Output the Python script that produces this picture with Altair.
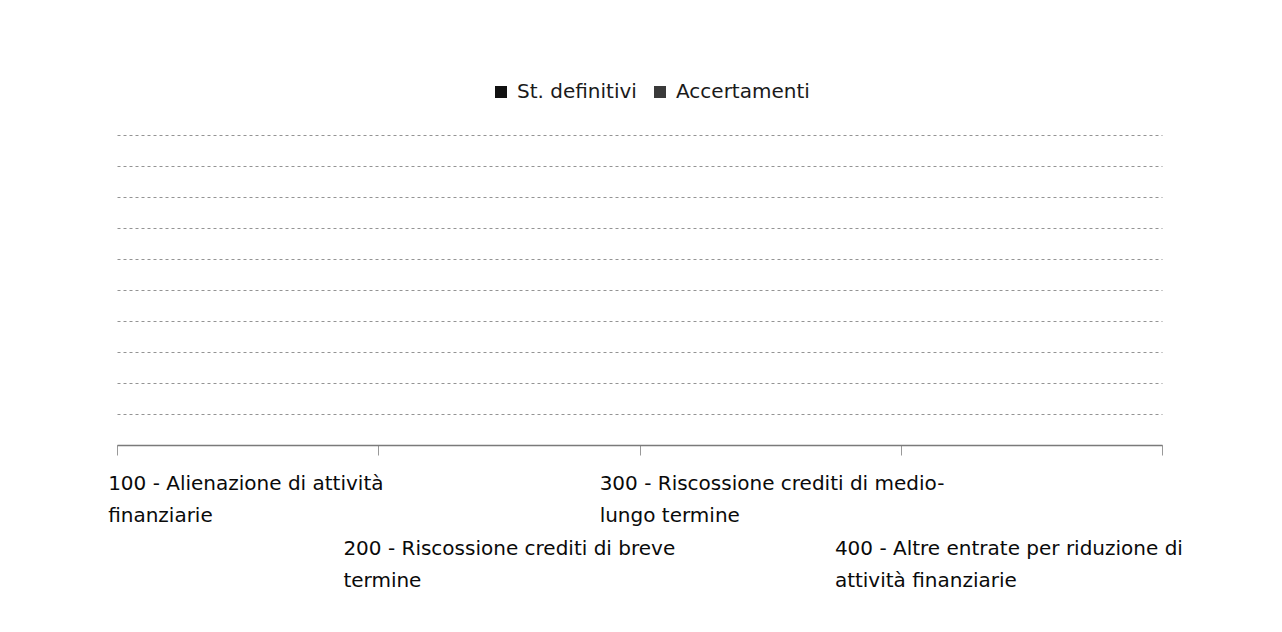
import altair as alt
import pandas as pd

# ---- data (all amounts are zero: no bars visible) ----
categories = [
    "100 - Alienazione di attività finanziarie",
    "200 - Riscossione crediti di breve termine",
    "300 - Riscossione crediti di medio-lungo termine",
    "400 - Altre entrate per riduzione di attività finanziarie",
]
tick_labels = [
    "100 - Alienazione di attività|finanziarie",
    "200 - Riscossione crediti di breve|termine",
    "300 - Riscossione crediti di medio-|lungo termine",
    "400 - Altre entrate per riduzione di|attività finanziarie",
]
series = ["St. definitivi", "Accertamenti"]
st_definitivi = [0, 0, 0, 0]
accertamenti = [0, 0, 0, 0]
y_ticks = list(range(0, 11))

rows = []
for i, c in enumerate(tick_labels):
    rows.append({"cat": c, "serie": series[0], "val": st_definitivi[i]})
    rows.append({"cat": c, "serie": series[1], "val": accertamenti[i]})
df = pd.DataFrame(rows)

FONT = "DejaVu Sans"

label_offset = {
    "condition": [
        {"test": f"datum.value == '{tick_labels[0]}'", "value": -140},
        {"test": f"datum.value == '{tick_labels[1]}'", "value": -166},
        {"test": f"datum.value == '{tick_labels[2]}'", "value": -171},
    ],
    "value": -197,
}
label_padding = {
    "condition": {
        "test": f"datum.value == '{tick_labels[1]}' || datum.value == '{tick_labels[3]}'",
        "value": 83,
    },
    "value": 18,
}

chart = (
    alt.Chart(df)
    .mark_bar()
    .encode(
        x=alt.X(
            "cat:N",
            sort=tick_labels,
            title=None,
            scale=alt.Scale(paddingInner=0, paddingOuter=0),
            axis=alt.Axis(
                tickBand="extent",
                labelAngle=0,
                labelAlign="left",
                labelBaseline="top",
                labelExpr="split(datum.label, '|')",
                labelLineHeight=32,
                labelFont=FONT,
                labelFontSize=20,
                labelColor="#0a0a0a",
                labelLimit=0,
                labelOffset=label_offset,
                labelPadding=label_padding,
                domainColor="#7a7a7a",
                domainWidth=1.5,
                tickColor="#999999",
                tickSize=10,
                grid=False,
            ),
        ),
        xOffset=alt.XOffset("serie:N", sort=series),
        y=alt.Y(
            "val:Q",
            title=None,
            scale=alt.Scale(domain=[0, 10], nice=False),
            axis=alt.Axis(
                values=y_ticks,
                labels=False,
                ticks=False,
                domain=False,
                grid=True,
                gridDash=[3, 3],
                gridColor="#949494",
                gridWidth=1,
            ),
        ),
        color=alt.Color(
            "serie:N",
            sort=series,
            scale=alt.Scale(domain=series, range=["#111111", "#3a3a3a"]),
            legend=alt.Legend(
                title=None,
                orient="none",
                direction="horizontal",
                legendX=374,
                legendY=-53,
                symbolType="square",
                symbolSize=144,
                symbolStrokeWidth=0,
                labelFont=FONT,
                labelFontSize=20,
                labelColor="#1a1a1a",
                labelOffset=6,
                columnPadding=13,
            ),
        ),
    )
    .properties(
        width=1045,
        height=310,
        background="white",
        autosize=alt.AutoSizeParams(type="none"),
        padding={"left": 109, "top": 127, "right": 100, "bottom": 170},
    )
    .configure_view(strokeWidth=0, stroke="transparent")
)

chart.save("out.html", embed_options={"renderer": "svg", "actions": False})
